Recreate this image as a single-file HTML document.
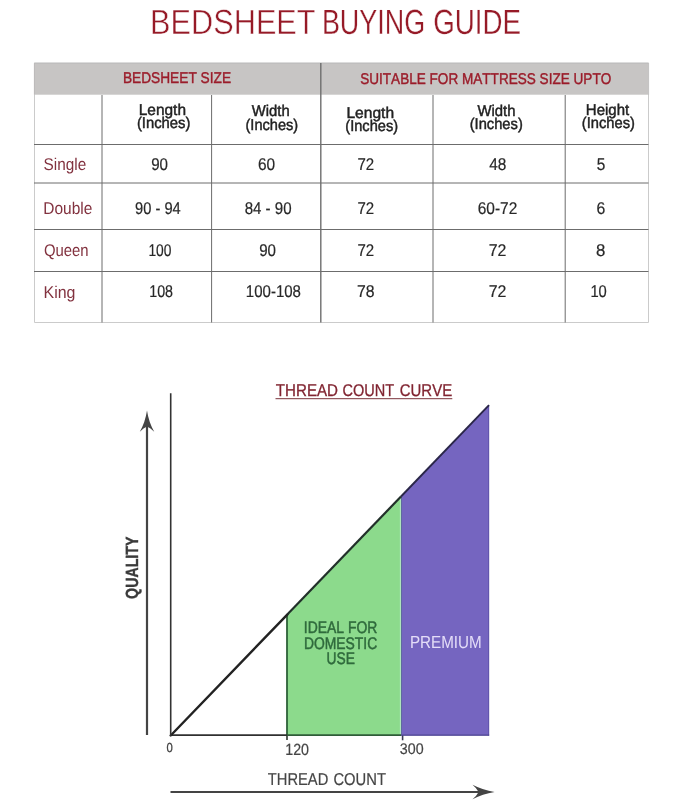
<!DOCTYPE html>
<html lang="en">
<head>
<meta charset="utf-8">
<title>Bedsheet Buying Guide</title>
<style>
html,body{margin:0;padding:0;background:#fff;}
body{width:683px;height:800px;overflow:hidden;font-family:"Liberation Sans",sans-serif;}
svg{display:block;}
text{font-family:"Liberation Sans",sans-serif;text-rendering:geometricPrecision;font-kerning:none;}
</style>
</head>
<body>
<svg width="683" height="800" viewBox="0 0 683 800">
<rect width="683" height="800" fill="#ffffff"/>
<!-- Title -->
<text x="150.08" y="34.00" font-size="35" fill="#961a27" textLength="165.52" lengthAdjust="spacingAndGlyphs" stroke="#fff" stroke-width="0.5">BEDSHEET</text>
<text x="321.89" y="34.00" font-size="35" fill="#961a27" textLength="103.32" lengthAdjust="spacingAndGlyphs" stroke="#fff" stroke-width="0.3">BUYING</text>
<text x="433.21" y="34.00" font-size="35" fill="#961a27" textLength="87.79" lengthAdjust="spacingAndGlyphs" stroke="#fff" stroke-width="0.3">GUIDE</text>
<!-- Table -->
<rect x="34" y="62.7" width="614.5" height="32" fill="#c7c5c4"/>
<g stroke="#6c6c6c" stroke-width="1" fill="none">
<path d="M34.5 94 V322.5 H648.5 V94" stroke="#cbcbcb"/>
<path d="M34.4 94.5 V63.1 H648.6 V94.5" stroke="#b9b8b8" stroke-width="0.8"/>
<line x1="34" y1="144.5" x2="648.5" y2="144.5"/>
<line x1="34" y1="183" x2="648.5" y2="183"/>
<line x1="34" y1="229.5" x2="648.5" y2="229.5"/>
<line x1="34" y1="271.5" x2="648.5" y2="271.5"/>
<line x1="102" y1="95" x2="102" y2="322.5"/>
<line x1="211.6" y1="95" x2="211.6" y2="322.5"/>
<line x1="433" y1="95" x2="433" y2="322.5"/>
<line x1="565.2" y1="95" x2="565.2" y2="322.5"/>
<line x1="320.8" y1="63" x2="320.8" y2="322.5" stroke="#6e6e6e" stroke-width="1.4"/>
</g>
<text x="122.88" y="83.00" font-size="15.6" fill="#9b1c2a" textLength="108.21" lengthAdjust="spacingAndGlyphs" stroke="#9b1c2a" stroke-width="0.4">BEDSHEET SIZE</text>
<text x="360.18" y="84.00" font-size="15.6" fill="#9b1c2a" textLength="251.07" lengthAdjust="spacingAndGlyphs" stroke="#9b1c2a" stroke-width="0.4">SUITABLE FOR MATTRESS SIZE UPTO</text>
<text x="138.73" y="115.20" font-size="15.6" fill="#222222" textLength="47.27" lengthAdjust="spacingAndGlyphs" stroke="#222222" stroke-width="0.45">Length</text>
<text x="136.88" y="128.20" font-size="15.6" fill="#222222" textLength="53.54" lengthAdjust="spacingAndGlyphs" stroke="#222222" stroke-width="0.45">(Inches)</text>
<text x="251.83" y="116.20" font-size="15.6" fill="#222222" textLength="37.93" lengthAdjust="spacingAndGlyphs" stroke="#222222" stroke-width="0.45">Width</text>
<text x="245.50" y="129.60" font-size="15.6" fill="#222222" textLength="52.71" lengthAdjust="spacingAndGlyphs" stroke="#222222" stroke-width="0.45">(Inches)</text>
<text x="346.42" y="117.70" font-size="15.6" fill="#222222" textLength="47.69" lengthAdjust="spacingAndGlyphs" stroke="#222222" stroke-width="0.45">Length</text>
<text x="345.29" y="130.90" font-size="15.6" fill="#222222" textLength="52.81" lengthAdjust="spacingAndGlyphs" stroke="#222222" stroke-width="0.45">(Inches)</text>
<text x="477.43" y="115.50" font-size="15.6" fill="#222222" textLength="38.03" lengthAdjust="spacingAndGlyphs" stroke="#222222" stroke-width="0.45">Width</text>
<text x="469.69" y="128.80" font-size="15.6" fill="#222222" textLength="53.12" lengthAdjust="spacingAndGlyphs" stroke="#222222" stroke-width="0.45">(Inches)</text>
<text x="585.87" y="114.80" font-size="15.6" fill="#222222" textLength="43.34" lengthAdjust="spacingAndGlyphs" stroke="#222222" stroke-width="0.45">Height</text>
<text x="581.79" y="128.10" font-size="15.6" fill="#222222" textLength="53.12" lengthAdjust="spacingAndGlyphs" stroke="#222222" stroke-width="0.45">(Inches)</text>
<text x="43.60" y="170.00" font-size="17" fill="#82323f" textLength="42.68" lengthAdjust="spacingAndGlyphs">Single</text>
<text x="43.33" y="214.00" font-size="17" fill="#82323f" textLength="49.06" lengthAdjust="spacingAndGlyphs">Double</text>
<text x="43.89" y="256.00" font-size="17" fill="#82323f" textLength="44.77" lengthAdjust="spacingAndGlyphs">Queen</text>
<text x="43.49" y="298.00" font-size="17" fill="#82323f" textLength="31.94" lengthAdjust="spacingAndGlyphs">King</text>
<text x="151.19" y="170.00" font-size="17" fill="#282828" textLength="16.80" lengthAdjust="spacingAndGlyphs" stroke="#282828" stroke-width="0.2">90</text>
<text x="258.02" y="170.00" font-size="17" fill="#282828" textLength="17.19" lengthAdjust="spacingAndGlyphs" stroke="#282828" stroke-width="0.2">60</text>
<text x="357.43" y="170.00" font-size="17" fill="#282828" textLength="16.73" lengthAdjust="spacingAndGlyphs" stroke="#282828" stroke-width="0.2">72</text>
<text x="489.25" y="170.00" font-size="17" fill="#282828" textLength="17.12" lengthAdjust="spacingAndGlyphs" stroke="#282828" stroke-width="0.2">48</text>
<text x="596.78" y="170.00" font-size="17" fill="#282828" textLength="8.56" lengthAdjust="spacingAndGlyphs" stroke="#282828" stroke-width="0.2">5</text>
<text x="135.11" y="214.00" font-size="17" fill="#282828" textLength="45.62" lengthAdjust="spacingAndGlyphs" stroke="#282828" stroke-width="0.2">90 - 94</text>
<text x="244.64" y="214.00" font-size="17" fill="#282828" textLength="46.94" lengthAdjust="spacingAndGlyphs" stroke="#282828" stroke-width="0.2">84 - 90</text>
<text x="357.43" y="214.00" font-size="17" fill="#282828" textLength="16.73" lengthAdjust="spacingAndGlyphs" stroke="#282828" stroke-width="0.2">72</text>
<text x="477.71" y="214.00" font-size="17" fill="#282828" textLength="39.56" lengthAdjust="spacingAndGlyphs" stroke="#282828" stroke-width="0.2">60-72</text>
<text x="596.60" y="214.00" font-size="17" fill="#282828" textLength="8.80" lengthAdjust="spacingAndGlyphs" stroke="#282828" stroke-width="0.2">6</text>
<text x="148.45" y="256.00" font-size="17" fill="#282828" textLength="22.99" lengthAdjust="spacingAndGlyphs" stroke="#282828" stroke-width="0.2">100</text>
<text x="259.19" y="256.00" font-size="17" fill="#282828" textLength="16.80" lengthAdjust="spacingAndGlyphs" stroke="#282828" stroke-width="0.2">90</text>
<text x="357.43" y="256.00" font-size="17" fill="#282828" textLength="16.73" lengthAdjust="spacingAndGlyphs" stroke="#282828" stroke-width="0.2">72</text>
<text x="488.78" y="256.00" font-size="17" fill="#282828" textLength="17.72" lengthAdjust="spacingAndGlyphs" stroke="#282828" stroke-width="0.2">72</text>
<text x="596.07" y="256.00" font-size="17" fill="#282828" textLength="9.36" lengthAdjust="spacingAndGlyphs" stroke="#282828" stroke-width="0.2">8</text>
<text x="149.21" y="297.00" font-size="17" fill="#282828" textLength="23.81" lengthAdjust="spacingAndGlyphs" stroke="#282828" stroke-width="0.2">108</text>
<text x="245.86" y="297.00" font-size="17" fill="#282828" textLength="55.10" lengthAdjust="spacingAndGlyphs" stroke="#282828" stroke-width="0.2">100-108</text>
<text x="356.99" y="297.00" font-size="17" fill="#282828" textLength="17.60" lengthAdjust="spacingAndGlyphs" stroke="#282828" stroke-width="0.2">78</text>
<text x="488.78" y="297.00" font-size="17" fill="#282828" textLength="17.72" lengthAdjust="spacingAndGlyphs" stroke="#282828" stroke-width="0.2">72</text>
<text x="590.38" y="297.00" font-size="17" fill="#282828" textLength="16.40" lengthAdjust="spacingAndGlyphs" stroke="#282828" stroke-width="0.2">10</text>
<!-- Chart -->
<text x="275.86" y="396.00" font-size="17" fill="#802431" textLength="62.16" lengthAdjust="spacingAndGlyphs" stroke="#802431" stroke-width="0.3">THREAD</text>
<text x="342.46" y="396.00" font-size="17" fill="#802431" textLength="51.67" lengthAdjust="spacingAndGlyphs" stroke="#802431" stroke-width="0.3">COUNT</text>
<text x="399.74" y="396.00" font-size="17" fill="#802431" textLength="52.40" lengthAdjust="spacingAndGlyphs" stroke="#802431" stroke-width="0.3">CURVE</text>
<line x1="275.5" y1="398.7" x2="452.3" y2="398.7" stroke="#7a333c" stroke-width="1"/>
<polygon points="287,614.8 401,496.5 401,735.5 287,735.5" fill="#8cda8c"/>
<polygon points="401,496.5 489,405.2 489,735.5 401,735.5" fill="#7565c0"/>
<line x1="287" y1="614.5" x2="287" y2="735" stroke="#2d6138" stroke-width="1.8"/>
<line x1="287" y1="735" x2="287" y2="740" stroke="#3a3f3a" stroke-width="1.7"/>
<line x1="400.4" y1="498" x2="400.4" y2="734.5" stroke="#b2e6c2" stroke-width="1"/>
<line x1="401.5" y1="497" x2="401.5" y2="735" stroke="#5f6a9e" stroke-width="1"/>
<line x1="402.6" y1="735" x2="402.6" y2="740.3" stroke="#3a3a55" stroke-width="1.6"/>
<line x1="488.7" y1="405.5" x2="488.7" y2="735.5" stroke="#5e53ab" stroke-width="1"/>
<line x1="170.7" y1="735.1" x2="287" y2="735.1" stroke="#303030" stroke-width="1.7"/>
<line x1="287" y1="735.1" x2="401" y2="735.1" stroke="#2f5c38" stroke-width="1.7"/>
<line x1="401" y1="735.2" x2="489.2" y2="735.2" stroke="#4f4792" stroke-width="1.2"/>
<line x1="170.7" y1="735.5" x2="287.5" y2="614.3" stroke="#222" stroke-width="2.4" stroke-linecap="round"/>
<line x1="287.5" y1="614.3" x2="401" y2="496.5" stroke="#22302a" stroke-width="2.2"/>
<line x1="401" y1="496.5" x2="489" y2="405.2" stroke="#2a2648" stroke-width="1.9"/>
<line x1="170.7" y1="393.2" x2="170.7" y2="736" stroke="#333" stroke-width="1.6"/>
<!-- quality arrow -->
<line x1="147" y1="424" x2="147" y2="735" stroke="#444" stroke-width="2.2"/>
<path d="M147 410.6 Q145.2 422.5 139.8 431.8 Q143.6 427.6 147 426.4 Q150.4 427.6 154.2 431.8 Q148.8 422.5 147 410.6 Z" fill="#444"/>
<text transform="translate(138.30,598.88) rotate(-90)" font-size="17.6" fill="#3a3a3a" textLength="62.31" lengthAdjust="spacingAndGlyphs" font-weight="bold" stroke="#3a3a3a" stroke-width="0.4">QUALITY</text>
<!-- thread count arrow -->
<line x1="170.5" y1="792" x2="480" y2="792" stroke="#444" stroke-width="2.2"/>
<path d="M494.6 792 Q482.5 790 472.5 784.8 Q477 788.6 478.6 792 Q477 795.4 472.5 799.3 Q482.5 794 494.6 792 Z" fill="#444"/>
<text x="267.87" y="784.60" font-size="17.2" fill="#454545" textLength="60.43" lengthAdjust="spacingAndGlyphs" stroke="#454545" stroke-width="0.2">THREAD</text>
<text x="333.45" y="784.60" font-size="17.2" fill="#454545" textLength="52.49" lengthAdjust="spacingAndGlyphs" stroke="#454545" stroke-width="0.2">COUNT</text>
<text x="166.56" y="752.00" font-size="13.2" fill="#454545" textLength="6.28" lengthAdjust="spacingAndGlyphs" stroke="#454545" stroke-width="0.3">0</text>
<text x="285.22" y="754.70" font-size="16.2" fill="#454545" textLength="23.74" lengthAdjust="spacingAndGlyphs" stroke="#454545" stroke-width="0.2">120</text>
<text x="399.86" y="754.20" font-size="15.4" fill="#454545" textLength="23.80" lengthAdjust="spacingAndGlyphs" stroke="#454545" stroke-width="0.2">300</text>
<text x="303.81" y="633.00" font-size="16.8" fill="#2f6a3c" textLength="73.53" lengthAdjust="spacingAndGlyphs" stroke="#2f6a3c" stroke-width="0.5">IDEAL FOR</text>
<text x="303.96" y="648.90" font-size="16.8" fill="#2f6a3c" textLength="73.27" lengthAdjust="spacingAndGlyphs" stroke="#2f6a3c" stroke-width="0.5">DOMESTIC</text>
<text x="326.54" y="664.20" font-size="16.8" fill="#2f6a3c" textLength="28.36" lengthAdjust="spacingAndGlyphs" stroke="#2f6a3c" stroke-width="0.5">USE</text>
<text x="409.95" y="647.70" font-size="17.6" fill="#e4ddf8" textLength="71.79" lengthAdjust="spacingAndGlyphs">PREMIUM</text>
</svg>
</body>
</html>
